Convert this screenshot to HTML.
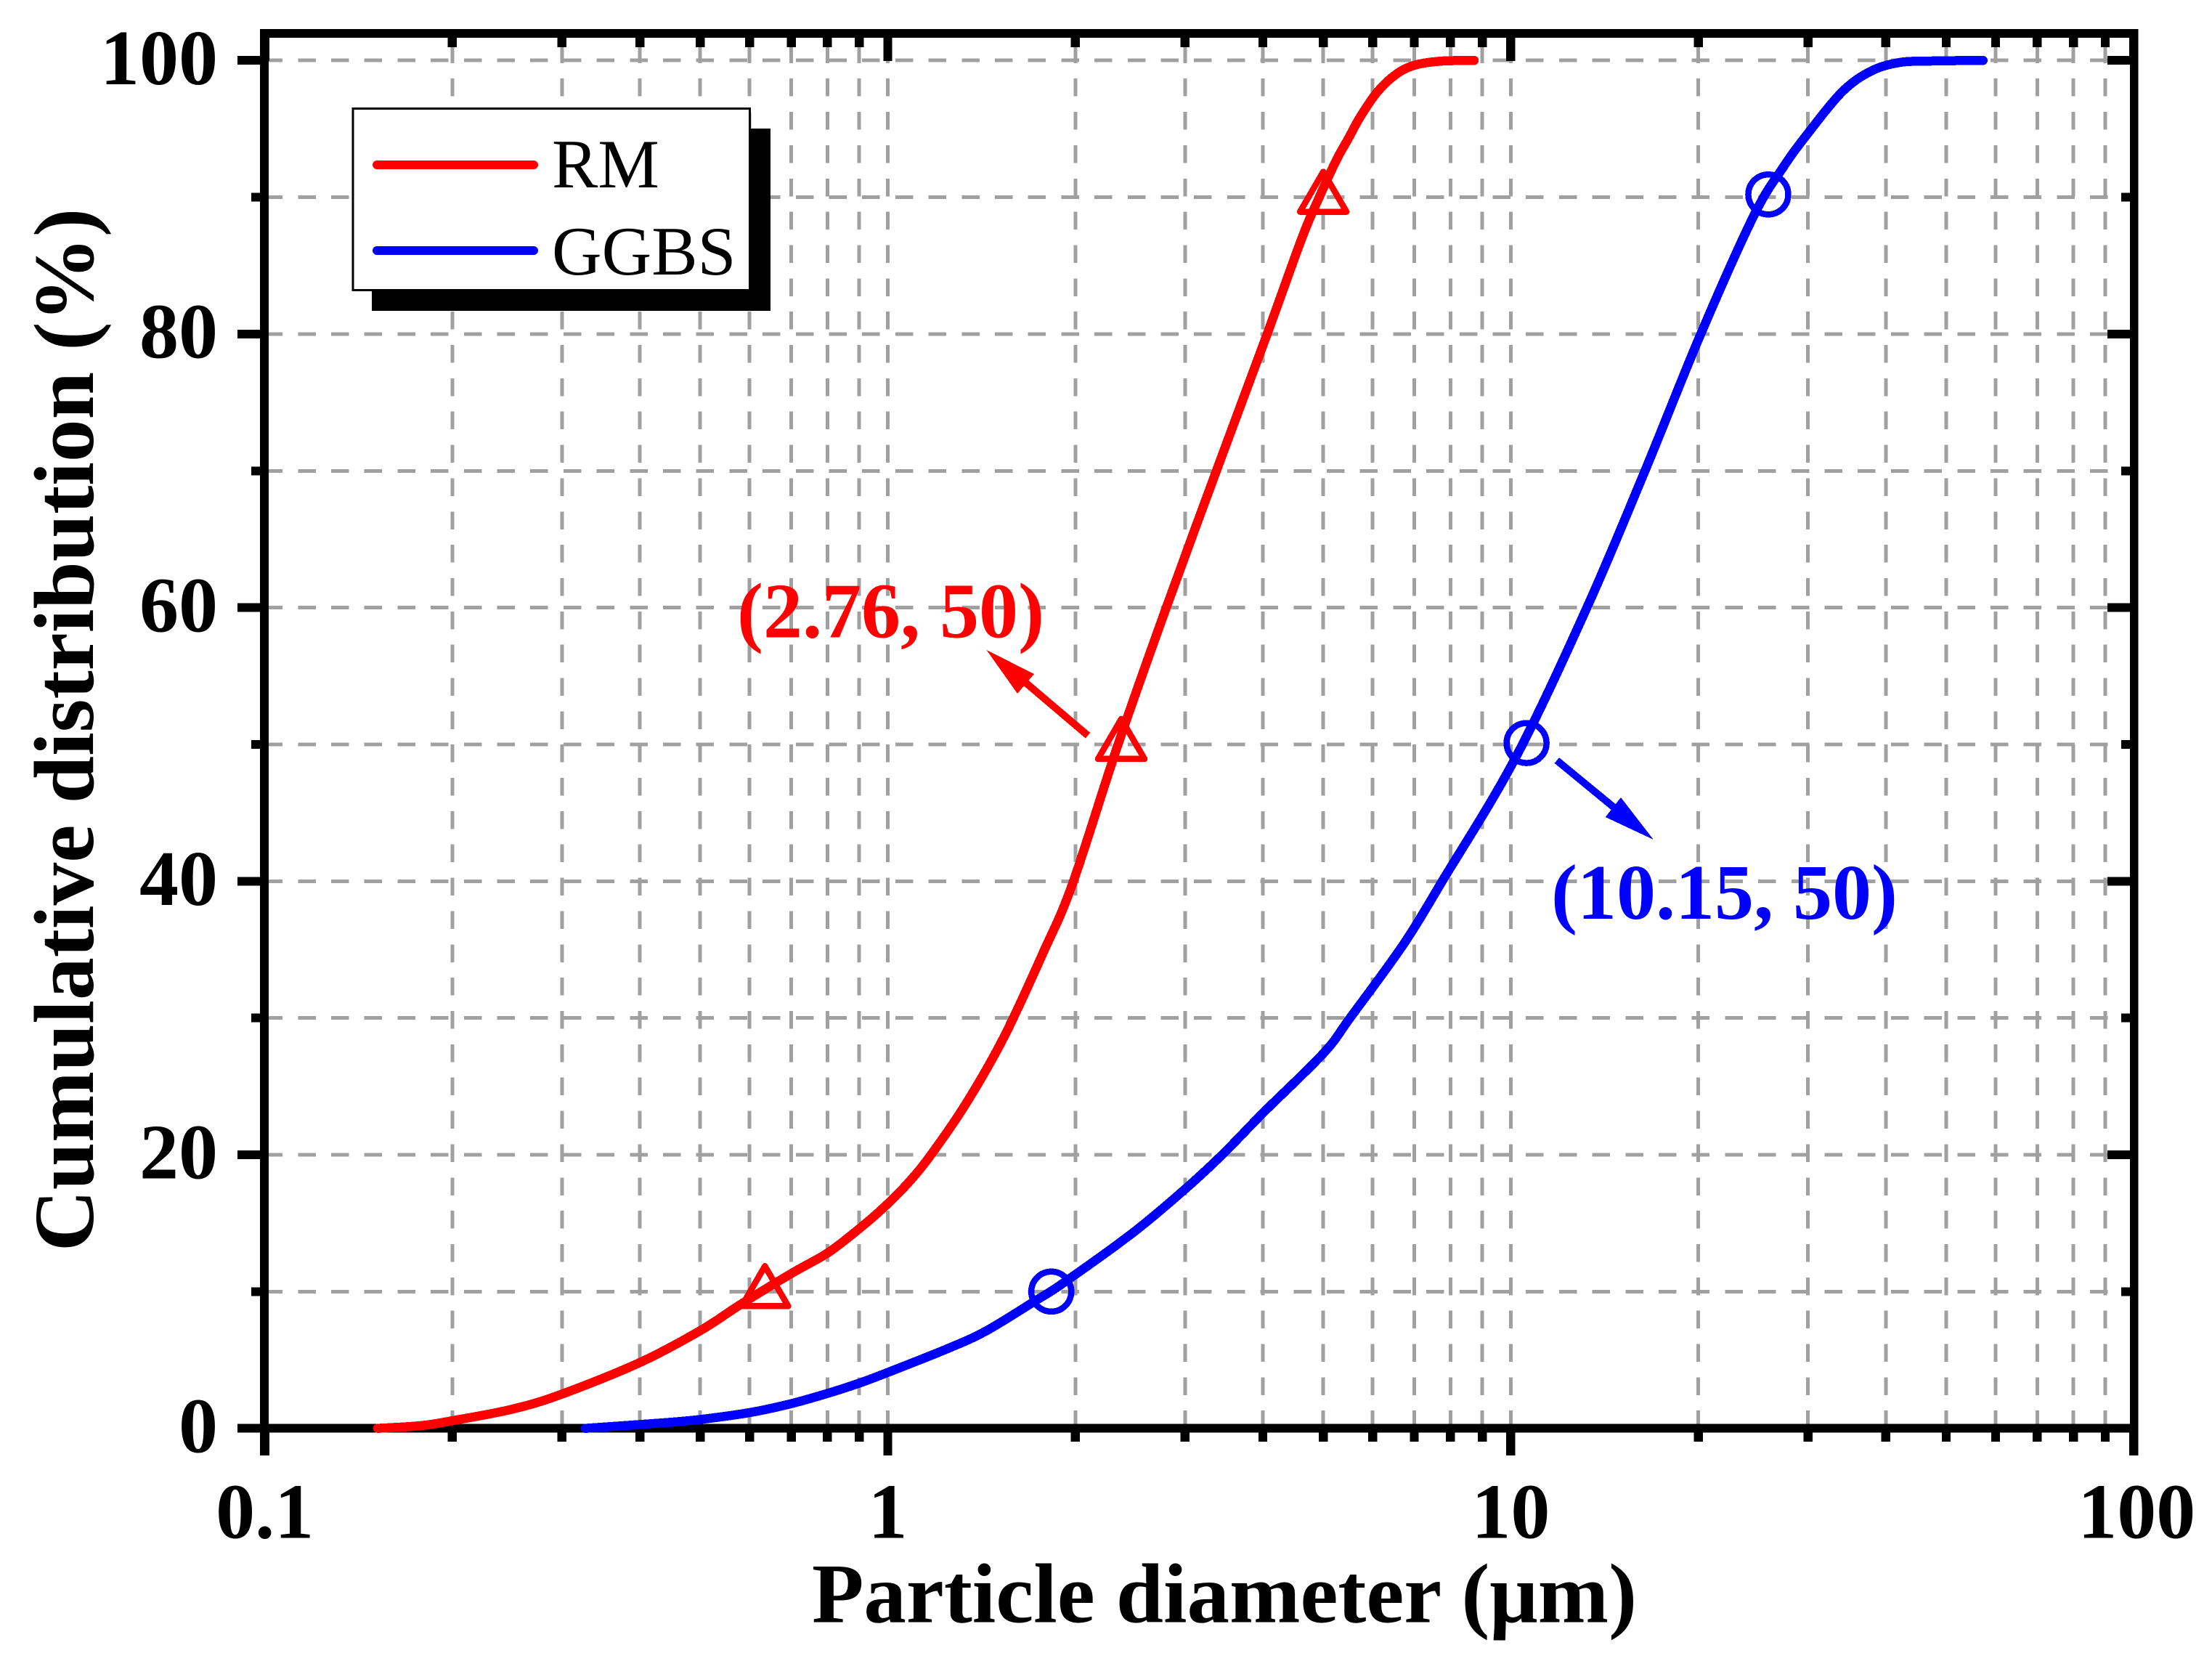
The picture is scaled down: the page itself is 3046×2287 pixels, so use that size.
<!DOCTYPE html>
<html lang="en">
<head>
<meta charset="utf-8">
<title>Cumulative particle size distribution</title>
<style>
html,body{margin:0;padding:0;background:#fff;}
svg{display:block;shape-rendering:crispEdges;}
text{font-family:"Liberation Serif","Times New Roman",serif;}
.b{font-weight:bold;}
</style>
</head>
<body>
<svg id="chart" xmlns="http://www.w3.org/2000/svg" width="3046" height="2287" viewBox="0 0 3046 2287">
  <rect x="0" y="0" width="3046" height="2287" fill="#fff"/>
  <g id="grid"></g>
  <g id="axes"></g>
  <g id="ticklabels"></g>
  <text class="b" x="1686" y="2233.5" font-size="117" text-anchor="middle" fill="#000">Particle diameter (μm)</text>
  <text class="b" transform="translate(128,1005) rotate(-90)" font-size="117.5" text-anchor="middle" fill="#000">Cumulative distribution (%)</text>

  <g>
    <rect x="512" y="177" width="549" height="251" fill="#000"/>
    <rect x="486" y="149.5" width="546.5" height="250" fill="#fff" stroke="#000" stroke-width="3"/>
    <line x1="519" y1="227" x2="735" y2="227" stroke="#f00" stroke-width="12" stroke-linecap="round"/>
    <text x="760" y="258" font-size="95" fill="#000">RM</text>
    <line x1="519" y1="345" x2="735" y2="345" stroke="#00f" stroke-width="12" stroke-linecap="round"/>
    <text x="760" y="378" font-size="95" fill="#000">GGBS</text>
  </g>

  <g id="series"></g>

  <g>
    <line x1="1498" y1="1012.7" x2="1410" y2="938" stroke="#f00" stroke-width="10"/>
    <polygon points="1358.5,895 1424,928 1401,955" fill="#f00"/>
    <text class="b" x="1015" y="877.7" font-size="108" fill="#f00">(2.76, 50)</text>
  </g>
  <g>
    <line x1="2143.8" y1="1047" x2="2224" y2="1113" stroke="#00f" stroke-width="10"/>
    <polygon points="2276.8,1156 2232,1098 2210.7,1125" fill="#00f"/>
    <text class="b" x="2136" y="1265" font-size="108" fill="#00f">(10.15, 50)</text>
  </g>
</svg>
<script>
// Chart data
const xMajorTicks = [0.1, 1, 10, 100];
const xMajorLabels = ['0.1', '1', '10', '100'];
const xMinorMultipliers = [2, 3, 4, 5, 6, 7, 8, 9];
const xMinorDecades = [0.1, 1, 10];
const yTicks = [0, 10, 20, 30, 40, 50, 60, 70, 80, 90, 100];
const yLabelledTicks = [0, 20, 40, 60, 80, 100];

const rmDiameter = [0.1517,0.1783,0.1995,0.2494,0.2997,0.3994,0.5003,0.5822,0.6988,0.7992,0.8888,0.9775,1.076,1.173,1.342,1.540,1.777,1.979,2.342,2.799,3.369,4.064,4.626,4.927,5.247,5.488,5.737,6.108,6.56,7.047,7.776,8.735];
const rmCumulative = [0,0.2,0.55,1.4,2.5,4.8,7.15,9.1,11.3,12.8,14.4,16.0,17.9,20,23.9,28.7,34.8,39.8,50,60,70,80,87.07,90,92.7,94.3,95.9,97.7,99.02,99.68,99.96,100];
const ggbsDiameter = [0.3269,0.4346,0.4997,0.5998,0.6988,0.7992,0.8995,1.0014,1.243,1.435,1.722,1.912,2.474,3.002,3.442,4.011,5.0,5.52,6.73,7.762,10.17,13.25,16.42,20.18,24.55,27.38,29.91,33.97,37.83,42.1,47.4,57.3];
const ggbsCumulative = [0,0.4,0.65,1.15,1.8,2.55,3.3,4.1,5.8,7.1,9.3,10.62,14.3,17.5,20,23.1,27.4,30,35.4,40,49,60,70,80,88.65,92.2,94.6,97.67,99.21,99.85,99.96,100];
const rmMarkerDiameter = [0.635, 2.37, 5.0];
const rmMarkerCumulative = [10, 50, 90];
const ggbsMarkerDiameter = [1.83, 10.6, 25.9];
const ggbsMarkerCumulative = [10, 50.1, 90.2];

// Axis functions
function xScale(v){ return 364.6 + (Math.log10(v) + 1) * 857.9; }
function yScale(v){ return 1966.7 - v * 18.835; }

const NS = 'http://www.w3.org/2000/svg';
function mk(parent, tag, attrs){
  const el = document.createElementNS(NS, tag);
  for (const k in attrs) el.setAttribute(k, attrs[k]);
  parent.appendChild(el);
  return el;
}

const gridG = document.getElementById('grid');
const axesG = document.getElementById('axes');
const labelG = document.getElementById('ticklabels');
const seriesG = document.getElementById('series');

const xMinorTicks = [];
xMinorDecades.forEach(function(d){
  xMinorMultipliers.forEach(function(m){ xMinorTicks.push(d * m); });
});
const xAllGrid = xMinorTicks.concat([1, 10]);

// Grid
xAllGrid.forEach(function(v){
  const x = xScale(v);
  const line = mk(gridG, 'line', {x1:x, y1:1966.7, x2:x, y2:52, stroke:'#a0a0a0', 'stroke-width':5, 'stroke-dasharray':'24.5 21.35'});
  
  
});
yTicks.forEach(function(v){
  if (v === 0) return;
  const y = yScale(v);
  const line = mk(gridG, 'line', {x1:364.6, y1:y, x2:2933, y2:y, stroke:'#a0a0a0', 'stroke-width':5, 'stroke-dasharray':'24.5 21.2'});
  
  
});

// Frame
const frameParts = [
  [358, 40, 12, 1964],
  [2933, 40, 11.5, 1964],
  [358, 40, 2586.5, 12],
  [358, 1960.7, 2586.5, 12]
];
frameParts.forEach(function(p){
  const r = mk(axesG, 'rect', {x:p[0], y:p[1], width:p[2], height:p[3], fill:'#000'});
  
  
});

// X ticks
function drawXTick(v, major){
  const x = xScale(v);
  const topTick = mk(axesG, 'rect', {x:x - 6.2, y:52, width:12.4, height:major ? 32 : 13, fill:'#000'});
  
  
  const botTick = mk(axesG, 'rect', {x:x - 6.2, y:1972.7, width:12.4, height:major ? 31.3 : 12.3, fill:'#000'});
  
  
}
xMajorTicks.forEach(function(v){ drawXTick(v, true); });
xMinorTicks.forEach(function(v){ drawXTick(v, false); });

// Y ticks
yTicks.forEach(function(v){
  const y = yScale(v);
  const major = yLabelledTicks.indexOf(v) >= 0;
  const len = major ? 31 : 12;
  const left = mk(axesG, 'rect', {x:358 - len, y:y - 6, width:len, height:12, fill:'#000'});
  
  
  const right = mk(axesG, 'rect', {x:2933 - len, y:y - 6, width:len, height:12, fill:'#000'});
  
  
});

// Tick labels
xMajorTicks.forEach(function(v, i){
  const t = mk(labelG, 'text', {x:xScale(v) + (v === 100 ? 4 : 0), y:2117.5, 'font-size':108, 'text-anchor':'middle', 'class':'b', fill:'#000'});
  
  
  t.textContent = xMajorLabels[i];
});
yLabelledTicks.forEach(function(v){
  const t = mk(labelG, 'text', {x:300, y:yScale(v) + 32.7, 'font-size':108, 'text-anchor':'end', 'class':'b', fill:'#000'});
  
  
  t.textContent = String(v);
});

// Series lines: smooth path through the data points
function smoothPath(xs, ys){
  const px = xs.map(xScale);
  const py = ys.map(yScale);
  const yMin = Math.min.apply(null, py);
  const yMax = Math.max.apply(null, py);
  const n = px.length;
  let d = 'M' + px[0].toFixed(1) + ' ' + py[0].toFixed(1);
  for (let i = 0; i < n - 1; i++) {
    const a = Math.max(i - 1, 0);
    const b = Math.min(i + 2, n - 1);
    const c1x = px[i] + (px[i + 1] - px[a]) / 6;
    const c1y = Math.min(yMax, Math.max(yMin, py[i] + (py[i + 1] - py[a]) / 6));
    const c2x = px[i + 1] - (px[b] - px[i]) / 6;
    const c2y = Math.min(yMax, Math.max(yMin, py[i + 1] - (py[b] - py[i]) / 6));
    d += 'C' + c1x.toFixed(1) + ' ' + c1y.toFixed(1) + ' ' + c2x.toFixed(1) + ' ' + c2y.toFixed(1) + ' ' + px[i + 1].toFixed(1) + ' ' + py[i + 1].toFixed(1);
  }
  return d;
}
const ggbsLine = mk(seriesG, 'path', {d:smoothPath(ggbsDiameter, ggbsCumulative), fill:'none', stroke:'#00f', 'stroke-width':12.5, 'stroke-linecap':'round', 'stroke-linejoin':'round'});


const rmLine = mk(seriesG, 'path', {d:smoothPath(rmDiameter, rmCumulative), fill:'none', stroke:'#f00', 'stroke-width':12.5, 'stroke-linecap':'round', 'stroke-linejoin':'round'});



// Markers
rmMarkerDiameter.forEach(function(d, i){
  const cx = xScale(d), cy = yScale(rmMarkerCumulative[i]);
  const pts = cx + ',' + (cy - 35) + ' ' + (cx + 32) + ',' + (cy + 20) + ' ' + (cx - 32) + ',' + (cy + 20);
  const m = mk(seriesG, 'polygon', {points:pts, fill:'none', stroke:'#f00', 'stroke-width':8.5, 'stroke-linejoin':'round'});
  
  
});
ggbsMarkerDiameter.forEach(function(d, i){
  const m = mk(seriesG, 'circle', {cx:xScale(d), cy:yScale(ggbsMarkerCumulative[i]), r:27.5, fill:'none', stroke:'#00f', 'stroke-width':8.5});
  
  
});
</script>
</body>
</html>
